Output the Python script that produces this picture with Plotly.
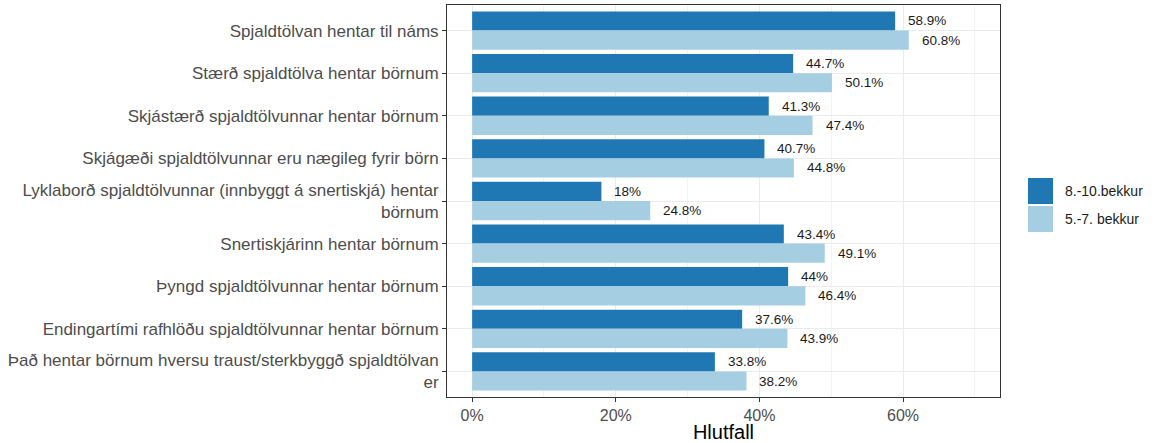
import plotly.graph_objects as go

categories = [
    "Spjaldtölvan hentar til náms",
    "Stærð spjaldtölva hentar börnum",
    "Skjástærð spjaldtölvunnar hentar börnum",
    "Skjágæði spjaldtölvunnar eru nægileg fyrir börn",
    "Lyklaborð spjaldtölvunnar (innbyggt á snertiskjá) hentar<br>börnum",
    "Snertiskjárinn hentar börnum",
    "Þyngd spjaldtölvunnar hentar börnum",
    "Endingartími rafhlöðu spjaldtölvunnar hentar börnum",
    "Það hentar börnum hversu traust/sterkbyggð spjaldtölvan<br>er",
]
series_names = ["8.-10.bekkur", "5.-7. bekkur"]
values_8_10 = [58.9, 44.7, 41.3, 40.7, 18, 43.4, 44, 37.6, 33.8]
values_5_7 = [60.8, 50.1, 47.4, 44.8, 24.8, 49.1, 46.4, 43.9, 38.2]
colors = ["#1F78B4", "#A6CEE3"]
x_ticks = [0, 20, 40, 60]
x_ticklabels = ["0%", "20%", "40%", "60%"]

FONT = "Liberation Sans, Arial, sans-serif"

fig = go.Figure()
for name, vals, col in zip(series_names, [values_8_10, values_5_7], colors):
    fig.add_trace(go.Bar(
        y=categories, x=vals, orientation="h", name=name,
        marker=dict(color=col, line=dict(width=0)),
        showlegend=False, hoverinfo="x+y",
    ))

# value labels next to bar ends
bar_px_half = 9.6
for vals, shift in zip([values_8_10, values_5_7], [bar_px_half, -bar_px_half]):
    for cat, v in zip(categories, vals):
        fig.add_annotation(x=v, y=cat, text=f"{v:g}%", showarrow=False,
                           xanchor="left", yanchor="middle", xshift=11, yshift=shift,
                           font=dict(size=13.5, color="#1a1a1a", family=FONT))

fig.update_layout(
    width=1168, height=443,
    margin=dict(l=447, r=168, t=5, b=46),
    barmode="group", bargap=0.1, bargroupgap=0,
    plot_bgcolor="white", paper_bgcolor="white",
    font=dict(family=FONT, size=16, color="#4D4D4D"),
    xaxis=dict(
        range=[-3.5, 73.5], tickvals=x_ticks, ticktext=x_ticklabels,
        showgrid=True, gridcolor="#EBEBEB", gridwidth=1,
        minor=dict(dtick=10, tick0=0, showgrid=True, gridcolor="#F3F3F3", gridwidth=0.6),
        showline=True, mirror=True, linecolor="#333333", linewidth=1,
        ticks="outside", ticklen=4, tickcolor="#333333",
        tickfont=dict(size=16, color="#4D4D4D"),
        zeroline=False, automargin=False,
        title=dict(text="Hlutfall", font=dict(size=20, color="black"), standoff=2),
    ),
    yaxis=dict(
        type="category", range=[8.6, -0.6],
        showgrid=True, gridcolor="#EBEBEB", gridwidth=1,
        showline=True, mirror=True, linecolor="#333333", linewidth=1,
        ticks="outside", ticklen=4, tickcolor="#333333",
        tickfont=dict(size=17, color="#4D4D4D"),
        zeroline=False, automargin=False,
    ),
)

# legend drawn as keys + labels
panel_h = 443 - 5 - 46
panel_w = 1168 - 447 - 168
def px_x(px):
    return (px - 447) / panel_w
def px_y(py):
    return (443 - 46 - py) / panel_h

key_tops = [178, 206]
for name, col, top in zip(series_names, colors, key_tops):
    fig.add_shape(type="rect", xref="paper", yref="paper",
                  x0=px_x(1028), x1=px_x(1053), y0=px_y(top + 26), y1=px_y(top),
                  fillcolor=col, line=dict(width=0))
    fig.add_annotation(xref="paper", yref="paper", x=px_x(1063), y=px_y(top + 13),
                       text=name, showarrow=False, xanchor="left", yanchor="middle",
                       font=dict(size=14, color="#1a1a1a", family=FONT))

fig.write_html("out.html", config={"displayModeBar": False},
               post_script="document.body.style.margin='0px';")
